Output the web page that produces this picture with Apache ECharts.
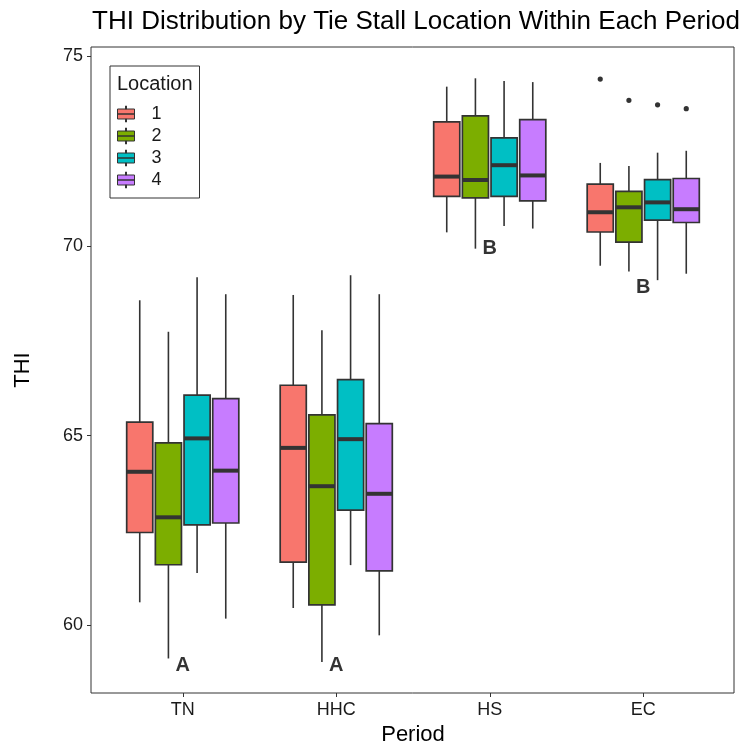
<!DOCTYPE html>
<html>
<head>
<meta charset="utf-8">
<script src="https://cdn.jsdelivr.net/npm/echarts@6/dist/echarts.min.js"></script>
<style>
html,body{margin:0;padding:0;background:#fff;}
#chart{width:746px;height:747px;}
</style>
</head>
<body>
<div id="chart"></div>
<script>
// Categories and tick labels
const periods = ['TN', 'HHC', 'HS', 'EC'];
const locations = ['1', '2', '3', '4'];
const yTicks = [60, 65, 70, 75];
const locColors = ['#F8766D', '#7CAE00', '#00BFC4', '#C77CFF'];

// Box statistics per location, one row per period: [lowerWhisker, Q1, median, Q3, upperWhisker]
const loc1 = [
  [60.61, 62.45, 64.05, 65.36, 68.57],
  [60.46, 61.67, 64.68, 66.33, 68.71],
  [70.36, 71.31, 71.83, 73.27, 74.20],
  [69.48, 70.37, 70.89, 71.63, 72.19]
];
const loc2 = [
  [59.13, 61.60, 62.85, 64.81, 67.74],
  [59.04, 60.54, 63.67, 65.55, 67.78],
  [69.93, 71.27, 71.74, 73.43, 74.42],
  [69.33, 70.10, 71.02, 71.44, 72.11]
];
const loc3 = [
  [61.38, 62.65, 64.93, 66.07, 69.18],
  [61.59, 63.04, 64.91, 66.48, 69.23],
  [70.53, 71.31, 72.13, 72.85, 74.35],
  [69.10, 70.68, 71.15, 71.75, 72.46]
];
const loc4 = [
  [60.18, 62.70, 64.08, 65.98, 68.73],
  [59.74, 61.44, 63.47, 65.32, 68.73],
  [70.46, 71.19, 71.86, 73.33, 74.32],
  [69.27, 70.62, 70.97, 71.78, 72.51]
];
// Outliers: [periodIndex, locationIndex, value]
const outliers = [
  [3, 0, 74.40],
  [3, 1, 73.84],
  [3, 2, 73.72],
  [3, 3, 73.62]
];
// Significance letters
const letters = ['A', 'A', 'B', 'B'];
const letterY = [58.95, 58.95, 69.94, 68.92];

const allLocs = [loc1, loc2, loc3, loc4];
const SPACING = 0.1868, BOXW = 0.170;

function boxRender(k) {
  return function (params, api) {
    const c = api.value(0);
    const band = api.size([1, 0])[0];
    const xc = api.coord([c, 70])[0] + (k - 1.5) * SPACING * band;
    const w = BOXW * band;
    const yLow = api.coord([c, api.value(1)])[1];
    const yQ1 = api.coord([c, api.value(2)])[1];
    const yMed = api.coord([c, api.value(3)])[1];
    const yQ3 = api.coord([c, api.value(4)])[1];
    const yHigh = api.coord([c, api.value(5)])[1];
    const stroke = '#333333';
    return {
      type: 'group',
      children: [
        {type: 'line', shape: {x1: xc, y1: yHigh, x2: xc, y2: yQ3}, style: {stroke: stroke, lineWidth: 1.6}},
        {type: 'line', shape: {x1: xc, y1: yQ1, x2: xc, y2: yLow}, style: {stroke: stroke, lineWidth: 1.6}},
        {type: 'rect', shape: {x: xc - w / 2, y: yQ3, width: w, height: yQ1 - yQ3},
          style: {fill: locColors[k], stroke: stroke, lineWidth: 1.7}},
        {type: 'line', shape: {x1: xc - w / 2, y1: yMed, x2: xc + w / 2, y2: yMed},
          style: {stroke: stroke, lineWidth: 4}}
      ]
    };
  };
}

const boxSeries = allLocs.map(function (arr, k) {
  return {
    name: locations[k],
    type: 'custom',
    xAxisIndex: 1,
    yAxisIndex: 1,
    itemStyle: {color: locColors[k]},
    renderItem: boxRender(k),
    encode: {x: 0, y: [1, 2, 3, 4, 5]},
    data: arr.map(function (r, i) { return [i].concat(r); }),
    silent: true
  };
});

const outlierSeries = {
  type: 'custom',
  xAxisIndex: 1,
  yAxisIndex: 1,
  renderItem: function (params, api) {
    const c = api.value(0);
    const k = api.value(1);
    const band = api.size([1, 0])[0];
    const p = api.coord([c, api.value(2)]);
    return {type: 'circle', shape: {cx: p[0] + (k - 1.5) * SPACING * band, cy: p[1], r: 2.6},
      style: {fill: '#333333'}};
  },
  encode: {x: 0, y: 2},
  data: outliers,
  silent: true
};

const letterSeries = {
  type: 'scatter',
  xAxisIndex: 1,
  yAxisIndex: 1,
  symbolSize: 0,
  data: letters.map(function (l, i) { return [i, letterY[i]]; }),
  label: {
    show: true,
    position: 'inside',
    formatter: function (p) { return letters[p.dataIndex]; },
    color: '#000',
    fontSize: 20,
    fontWeight: 'bold',
    fontFamily: 'Liberation Sans'
  },
  silent: true
};

const chart = echarts.init(document.getElementById('chart'), null, {renderer: 'canvas'});
chart.setOption({
  animation: false,
  backgroundColor: '#ffffff',
  textStyle: {fontFamily: 'Liberation Sans'},
  title: {
    text: 'THI Distribution by Tie Stall Location Within Each Period',
    left: 411, top: 4, textAlign: 'center',
    textStyle: {fontSize: 26, fontWeight: 'normal', color: '#000', fontFamily: 'Liberation Sans'}
  },
  legend: {
    data: locations,
    orient: 'vertical',
    left: 110, top: 66,
    padding: [39, 38, 9, 7],
    itemWidth: 17, itemHeight: 16, itemGap: 4,
    borderColor: '#333', borderWidth: 1,
    icon: 'path://M8,0 L9,0 L9,3 L8,3 Z M0,3 L17,3 L17,8 L0,8 Z M0,8 L17,8 L17,13 L0,13 Z M8,13 L9,13 L9,16 L8,16 Z',
    itemStyle: {borderColor: '#333', borderWidth: 1},
    textStyle: {fontSize: 18, color: '#1a1a1a', lineHeight: 16, padding: [0, 0, 0, 12], fontFamily: 'Liberation Sans'},
    selectedMode: false
  },
  graphic: [
    {type: 'text', x: 117, y: 84,
      style: {text: 'Location', fontSize: 20, fill: '#1a1a1a', verticalAlign: 'middle', fontFamily: 'Liberation Sans'}}
  ],
  grid: [
    {left: 91, right: 12, top: 47, bottom: 54, show: true, borderColor: '#333333', borderWidth: 1,
      backgroundColor: 'transparent', outerBoundsMode: 'none', containLabel: false},
    {left: 106, right: 26, top: 47, bottom: 54, outerBoundsMode: 'none', containLabel: false}
  ],
  xAxis: [
    {type: 'value', gridIndex: 0, show: false, min: 0, max: 1},
    {
      type: 'category', gridIndex: 1, data: periods,
      name: 'Period', nameLocation: 'middle', nameGap: 30,
      nameTextStyle: {fontSize: 22, color: '#000', fontFamily: 'Liberation Sans'},
      axisLine: {show: false},
      axisTick: {show: true, alignWithLabel: true, length: 4, lineStyle: {color: '#333333'}},
      axisLabel: {fontSize: 18, color: '#1a1a1a', margin: 8, fontFamily: 'Liberation Sans'},
      splitLine: {show: false}
    }
  ],
  yAxis: [
    {type: 'value', gridIndex: 0, show: false, min: 0, max: 1},
    {
      type: 'value', gridIndex: 1, min: 58.22, max: 75.245, offset: 15,
      name: 'THI', nameLocation: 'middle', nameGap: 57,
      nameTextStyle: {fontSize: 22, color: '#000', fontFamily: 'Liberation Sans'},
      axisLine: {show: false},
      axisTick: {show: true, length: 4, customValues: yTicks, lineStyle: {color: '#333333'}},
      axisLabel: {fontSize: 18, color: '#1a1a1a', margin: 8, customValues: yTicks, fontFamily: 'Liberation Sans'},
      splitLine: {show: false}
    }
  ],
  series: boxSeries.concat([outlierSeries, letterSeries])
});
</script>
</body>
</html>
